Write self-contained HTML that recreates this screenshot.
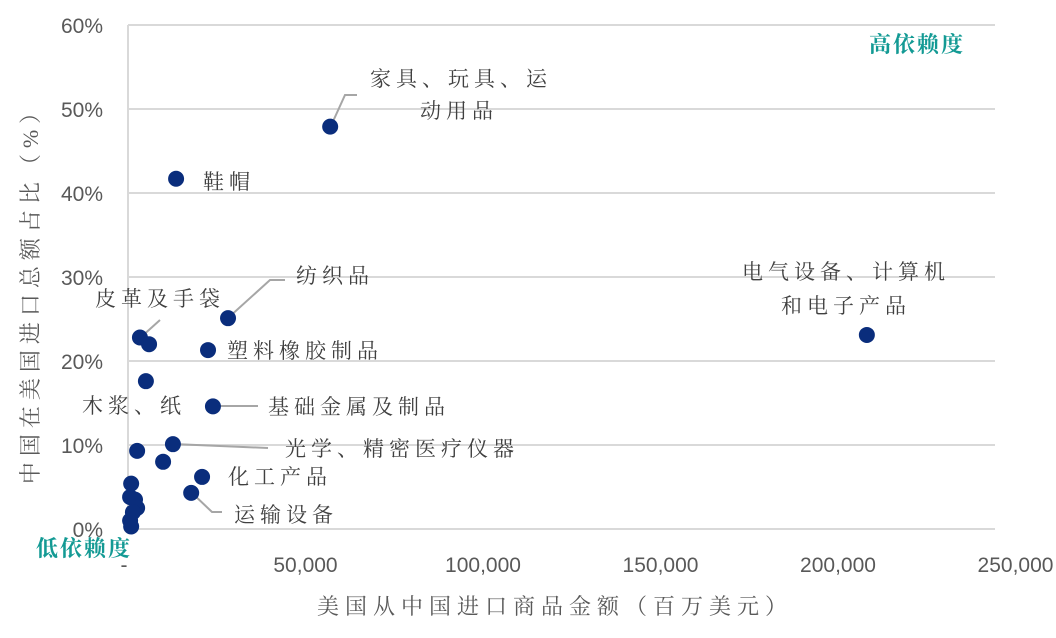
<!DOCTYPE html>
<html><head><meta charset="utf-8"><style>
body{margin:0;background:#fff;}
svg text{font-family:"Liberation Serif","Noto Serif CJK SC",serif;}
svg text.num{font-family:"Liberation Sans","Noto Sans CJK SC",sans-serif;}
</style></head><body>
<svg width="1056" height="633" xmlns="http://www.w3.org/2000/svg">
<g id="grid"></g>
<line x1="128" y1="25" x2="128" y2="529" stroke="#d9d9d9" stroke-width="2"/>
<g id="ticks"></g>
<g id="leaders" stroke="#a6a6a6" stroke-width="2" fill="none"></g>
<g id="pts"></g>
<g id="labels" fill="#404040" font-size="21" letter-spacing="5"></g>
<text x="917" y="52" fill="#139a94" font-size="22" font-weight="bold" letter-spacing="2" text-anchor="middle">高依赖度</text>
<text x="84" y="556" fill="#139a94" font-size="22" font-weight="bold" letter-spacing="2" text-anchor="middle">低依赖度</text>
<text x="555" y="614" fill="#595959" font-size="22" letter-spacing="6" text-anchor="middle">美国从中国进口商品金额（百万美元）</text>
<text transform="translate(38,290) rotate(-90)" fill="#595959" font-size="22" letter-spacing="6" text-anchor="middle">中国在美国进口总额占比（%）</text>
</svg>
<script>
const xVals=[57600,13700,28500,3400,6000,22800,5100,24200,2600,12800,10000,21100,18000,900,600,2000,2600,1400,600,900,210500];
const yVals=[47.9,41.7,25.1,22.8,22.0,21.3,17.6,14.6,9.3,10.1,8.0,6.2,4.3,5.4,3.8,3.5,2.5,2.0,1.0,0.3,23.1];
const xTicks=[0,50000,100000,150000,200000,250000];
const xTickLabels=["-","50,000","100,000","150,000","200,000","250,000"];
const yTicks=[0,10,20,30,40,50,60];
const yTickLabels=["0%","10%","20%","30%","40%","50%","60%"];
const X=v=>128+v/50000*175.5;
const Y=v=>529-v*8.4;
const NS="http://www.w3.org/2000/svg";
function mk(t,a,p){const e=document.createElementNS(NS,t);for(const k in a)e.setAttribute(k,a[k]);p.appendChild(e);return e;}
const grid=document.getElementById('grid'),ticks=document.getElementById('ticks');
yTicks.forEach((v,i)=>{
 const l=mk('line',{x1:128,x2:995,y1:Y(v),y2:Y(v),stroke:'#d9d9d9','stroke-width':2},grid);
 
 
 const t=mk('text',{x:103,y:Y(v)+8,'text-anchor':'end',fill:'#595959','font-size':21,'class':'num'},ticks);
 t.textContent=yTickLabels[i];
 
 
});
xTicks.forEach((v,i)=>{
 const t=mk('text',{x:X(v)-(i?0:4)+(i==5?10:i*2),y:572,'text-anchor':'middle',fill:'#595959','font-size':21,'class':'num'},ticks);
 t.textContent=xTickLabels[i];
 
 
});
const pts=document.getElementById('pts');
xVals.forEach((v,i)=>{
 const c=mk('circle',{cx:X(v),cy:Y(yVals[i]),r:8,fill:'#0a2d7c'},pts);
 
 
});
const leaders=document.getElementById('leaders');
function lead(d,name){const p=mk('path',{d:d},leaders);}
lead('M330,128 L345,95 L357,95','leader-furniture');
lead('M140,338 L160,320','leader-leather');
lead('M228,318 L270,280 L285,280','leader-textile');
lead('M213,406 L258,406','leader-metal');
lead('M173,444 L268,448','leader-optical');
lead('M191,492 L212,512 L222,512','leader-transport');
const lab=document.getElementById('labels');
function txt(x,y,s,name,anchor){const t=mk('text',{x:x,y:y,'text-anchor':anchor||'start'},lab);t.textContent=s;}
txt(370,86,'家具、玩具、运','label-furniture');
txt(420,118,'动用品','label-furniture-2');
txt(203,189,'鞋帽','label-footwear');
txt(296,283,'纺织品','label-textile');
txt(95,306,'皮革及手袋','label-leather');
txt(227,358,'塑料橡胶制品','label-plastic');
txt(82,413,'木浆、纸','label-pulp');
txt(268,414,'基础金属及制品','label-metal');
txt(285,456,'光学、精密医疗仪器','label-optical');
txt(228,484,'化工产品','label-chemical');
txt(234,522,'运输设备','label-transport');
txt(846,279,'电气设备、计算机','label-electrical','middle');
txt(846,313,'和电子产品','label-electrical-2','middle');
</script>
</body></html>
